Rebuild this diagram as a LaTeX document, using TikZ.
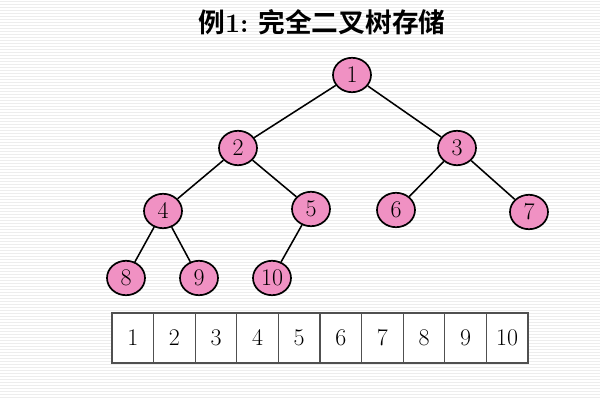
\documentclass[tikz,border=0pt]{standalone}
\usepackage{fontspec}
\newfontfamily\cjk{Noto Sans CJK SC}[BoldFont={Noto Sans CJK SC Bold}]
\usepackage{tikz}
\usetikzlibrary{shapes.geometric}

\definecolor{nodepink}{RGB}{240,145,195}
\definecolor{cellline}{RGB}{80,80,80}

\begin{document}
\begin{tikzpicture}[x=0.025cm,y=-0.025cm,-,line width=1.1pt,
                    main node/.style={ellipse,draw,fill=nodepink,inner sep=0pt,line width=1.2pt,
                      minimum width=0.95cm,minimum height=0.86cm,font=\fontsize{17}{19}\selectfont},
                    cell/.style={rectangle,draw=cellline,fill=white,line width=0.9pt,
                      minimum width=1.04cm,minimum height=1.25cm,font=\fontsize{17}{19}\selectfont}]
  % background stripes
  \useasboundingbox (0,0) rectangle (600,400);
  \fill[white] (0,0) rectangle (600,400);
  \foreach \y in {1,4,...,400}
    \draw[gray!14,line width=0.7pt] (0,\y) -- (600,\y);

  % title
  \node (title) at (322,22) {\bfseries\fontsize{19}{23}\selectfont{\cjk 例}1:~{\cjk 完全二叉树存储}};

  % tree
  \node[main node] (1) at (352,75) {1};
  \node[main node] (2) at (238,148) {2};
  \node[main node] (3) at (457,148) {3};
  \node[main node] (4) at (163,211) {4};
  \node[main node] (5) at (311,209) {5};
  \node[main node] (6) at (396,210) {6};
  \node[main node] (7) at (529,212) {7};
  \node[main node] (8) at (126,278) {8};
  \node[main node] (9) at (199,278) {9};
  \node[main node] (10) at (272,278) {10};

  \path
    (1) edge (2)
        edge (3)
    (2) edge (4)
        edge (5)
    (3) edge (6)
        edge (7)
    (4) edge (8)
        edge (9)
    (5) edge (10);

  % array
  \foreach \i in {1,...,10}
    \node[cell] (c\i) at ({112+41.6*(\i-0.5)},338) {\i};
\end{tikzpicture}
\end{document}
